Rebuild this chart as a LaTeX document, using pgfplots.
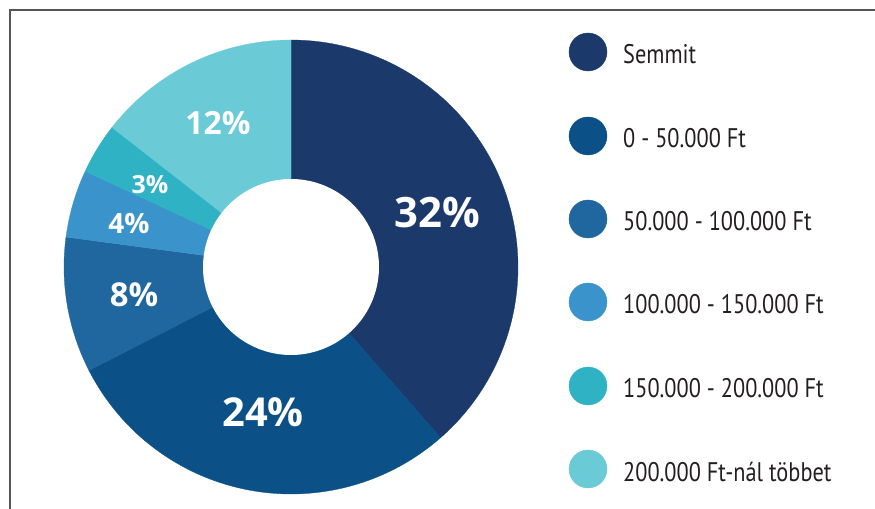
\documentclass[border=0pt]{standalone}
\usepackage{pgfplots}
\pgfplotsset{compat=1.18}
\usepackage{pgfplotstable}
\usepackage{fontspec}
\setmainfont{Open Sans}
\newfontfamily\legfont[FakeStretch=0.83]{PT Sans}
\definecolor{c1}{HTML}{1B3A6B}
\definecolor{c2}{HTML}{0B5087}
\definecolor{c3}{HTML}{1F679E}
\definecolor{c4}{HTML}{3A93CB}
\definecolor{c5}{HTML}{2FB2C4}
\definecolor{c6}{HTML}{6ACAD6}
\definecolor{legtext}{HTML}{231F20}
\definecolor{frame}{HTML}{555555}

\pgfplotstableread{
value
32
24
8
4
3
12
}\piedata

\begin{document}
\begin{tikzpicture}
\pgfplotstablegetelem{0}{value}\of\piedata\edef\vA{\pgfplotsretval}
\pgfplotstablegetelem{1}{value}\of\piedata\edef\vB{\pgfplotsretval}
\pgfplotstablegetelem{2}{value}\of\piedata\edef\vC{\pgfplotsretval}
\pgfplotstablegetelem{3}{value}\of\piedata\edef\vD{\pgfplotsretval}
\pgfplotstablegetelem{4}{value}\of\piedata\edef\vE{\pgfplotsretval}
\pgfplotstablegetelem{5}{value}\of\piedata\edef\vF{\pgfplotsretval}
\pgfmathsetmacro\T{\vA+\vB+\vC+\vD+\vE+\vF}
\pgfmathsetmacro\aA{90}
\pgfmathsetmacro\aB{90-(\vA)/\T*360}
\pgfmathsetmacro\aC{90-(\vA+\vB)/\T*360}
\pgfmathsetmacro\aD{90-(\vA+\vB+\vC)/\T*360}
\pgfmathsetmacro\aE{90-(\vA+\vB+\vC+\vD)/\T*360}
\pgfmathsetmacro\aF{90-(\vA+\vB+\vC+\vD+\vE)/\T*360}
\pgfmathsetmacro\aG{-270}
\useasboundingbox (0,0) rectangle (875bp,509bp);
\begin{axis}[width=875bp,height=509bp,scale only axis,
  xmin=0,xmax=875,ymin=0,ymax=509,hide axis,clip=false]
% frame
\addplot[frame, line width=1.3bp] coordinates {(10,0) (10,499) (875,499)};
% sectors
\addplot[fill=c1, draw=c1, line width=0.3bp, domain=\aB:\aA, samples=120, variable=\t] ({291+227*cos(\t)},{242+227*sin(\t)}) -- (axis cs:291,242) -- cycle;
\addplot[fill=c2, draw=c2, line width=0.3bp, domain=\aC:\aB, samples=100, variable=\t] ({291+227*cos(\t)},{242+227*sin(\t)}) -- (axis cs:291,242) -- cycle;
\addplot[fill=c3, draw=c3, line width=0.3bp, domain=\aD:\aC, samples=50, variable=\t] ({291+227*cos(\t)},{242+227*sin(\t)}) -- (axis cs:291,242) -- cycle;
\addplot[fill=c4, draw=c4, line width=0.3bp, domain=\aE:\aD, samples=30, variable=\t] ({291+227*cos(\t)},{242+227*sin(\t)}) -- (axis cs:291,242) -- cycle;
\addplot[fill=c5, draw=c5, line width=0.3bp, domain=\aF:\aE, samples=30, variable=\t] ({291+227*cos(\t)},{242+227*sin(\t)}) -- (axis cs:291,242) -- cycle;
\addplot[fill=c6, draw=c6, line width=0.3bp, domain=\aG:\aF, samples=60, variable=\t] ({291+227*cos(\t)},{242+227*sin(\t)}) -- (axis cs:291,242) -- cycle;
% hole
\addplot[fill=white, draw=none, domain=0:360, samples=160, variable=\t] ({291+88*cos(\t)},{242+88*sin(\t)}) -- cycle;
% pie labels
\begin{scope}[every node/.style={text=white, inner sep=0pt, anchor=center, font=\bfseries}]
\node[font=\bfseries\fontsize{42}{42}\selectfont] at (axis cs:437,296) {32\%};
\node[font=\bfseries\fontsize{40}{40}\selectfont] at (axis cs:263,97) {24\%};
\node[font=\bfseries\fontsize{33}{33}\selectfont] at (axis cs:134,214) {8\%};
\node[font=\bfseries\fontsize{28}{28}\selectfont] at (axis cs:129,285) {4\%};
\node[font=\bfseries\fontsize{25}{25}\selectfont] at (axis cs:150,324) {3\%};
\node[font=\bfseries\fontsize{32}{32}\selectfont] at (axis cs:218,386) {12\%};
\end{scope}
% legend markers
\addplot[only marks, mark=*, mark size=19bp, color=c1, mark options={fill=c1, draw=c1}] coordinates {(588,457)};
\addplot[only marks, mark=*, mark size=19bp, color=c2, mark options={fill=c2, draw=c2}] coordinates {(588,373)};
\addplot[only marks, mark=*, mark size=19bp, color=c3, mark options={fill=c3, draw=c3}] coordinates {(588,290)};
\addplot[only marks, mark=*, mark size=19bp, color=c4, mark options={fill=c4, draw=c4}] coordinates {(588,207)};
\addplot[only marks, mark=*, mark size=19bp, color=c5, mark options={fill=c5, draw=c5}] coordinates {(588,123)};
\addplot[only marks, mark=*, mark size=19bp, color=c6, mark options={fill=c6, draw=c6}] coordinates {(588,40)};
% legend text
\begin{scope}[every node/.style={text=legtext, inner sep=0pt, anchor=base west, font=\legfont\fontsize{27}{27}\selectfont}]
\node at (axis cs:623,445) {Semmit};
\node at (axis cs:623,361) {0 - 50.000 Ft};
\node at (axis cs:623,278) {50.000 - 100.000 Ft};
\node at (axis cs:623,195) {100.000 - 150.000 Ft};
\node at (axis cs:623,111) {150.000 - 200.000 Ft};
\node at (axis cs:623,28) {200.000 Ft-nál többet};
\end{scope}
\end{axis}
\end{tikzpicture}
\end{document}
